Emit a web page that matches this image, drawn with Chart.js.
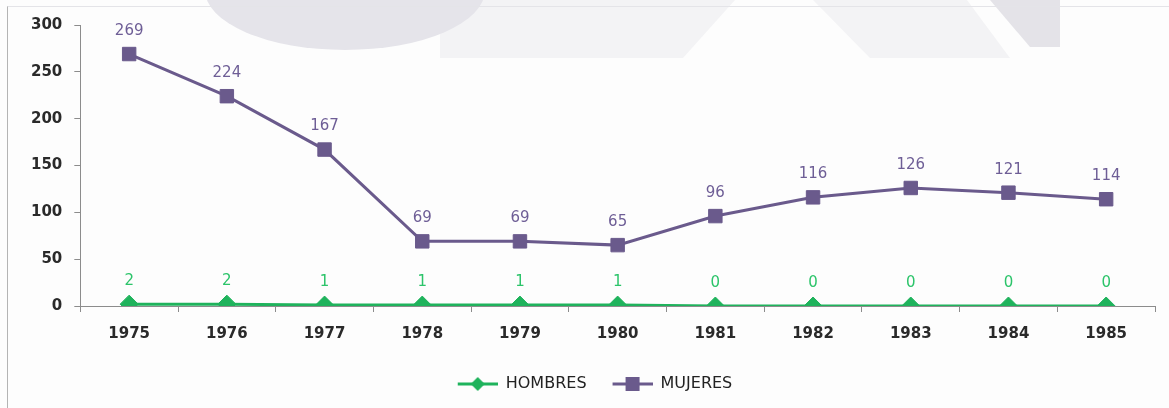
<!DOCTYPE html>
<html>
<head>
<meta charset="utf-8">
<script src="https://cdn.jsdelivr.net/npm/chart.js@4"></script>
<style>
    html, body { margin: 0; padding: 0; background: #fdfdfd; }
    #wrap { position: relative; width: 1169px; height: 408px; overflow: hidden; }
    .mark { position: absolute; }
    #frame { position: absolute; left: 7px; top: 6px; right: 0; bottom: 0; border-left: 1px solid #b4b4b4; border-top: 1px solid #e4e4e8; }
    canvas { position: absolute; left: 0; top: 0; }
</style>
</head>
<body>
<div id="wrap">
    <!-- faint watermark shapes behind the chart -->
    <div class="mark" style="left:440px;top:0;width:300px;height:58px;background:#f3f3f5;clip-path:polygon(0 0,295px 0,243px 58px,0 58px);"></div>
    <div class="mark" style="left:205px;top:-70px;width:280px;height:120px;border-radius:50%;background:#e5e4ea;"></div>
    <div class="mark" style="left:813px;top:0;width:200px;height:58px;background:#f3f3f5;clip-path:polygon(0 0,154px 0,197px 58px,57px 58px);"></div>
    <div class="mark" style="left:990px;top:0;width:70px;height:47px;background:#e4e3e8;clip-path:polygon(0 0,70px 0,70px 47px,40px 47px);"></div>
    <div id="frame"></div>
    <canvas id="chart" width="1169" height="408"></canvas>
</div>
<script>
// --- DATA ---
const years = ['1975', '1976', '1977', '1978', '1979', '1980', '1981', '1982', '1983', '1984', '1985'];
const hombres = [2, 2, 1, 1, 1, 1, 0, 0, 0, 0, 0];
const mujeres = [269, 224, 167, 69, 69, 65, 96, 116, 126, 121, 114];

const GREEN = '#1fb35c';
const PURPLE = '#6a5a8c';

Chart.defaults.font.family = 'DejaVu Sans';
Chart.defaults.color = '#222';

// small line + marker pictures for the legend
function legendSwatch(color, shape) {
    const c = document.createElement('canvas');
    c.width = 56; c.height = 16;
    const g = c.getContext('2d');
    g.strokeStyle = color;
    g.fillStyle = color;
    g.lineWidth = 3;
    g.beginPath();
    g.moveTo(16, 8); g.lineTo(56, 8);
    g.stroke();
    g.beginPath();
    if (shape === 'diamond') {
        g.moveTo(36, 1); g.lineTo(43, 8); g.lineTo(36, 15); g.lineTo(29, 8);
    } else {
        g.rect(29, 1, 14, 14);
    }
    g.closePath();
    g.fill();
    return c;
}

// value labels above each point
const valueLabels = {
    id: 'valueLabels',
    afterDatasetsDraw(chart) {
        const ctx = chart.ctx;
        ctx.save();
        ctx.font = '15px "DejaVu Sans"';
        ctx.textAlign = 'center';
        ctx.textBaseline = 'middle';
        chart.data.datasets.forEach((ds, i) => {
            const meta = chart.getDatasetMeta(i);
            ctx.fillStyle = ds.labelColor;
            meta.data.forEach((pt, j) => {
                ctx.fillText(String(ds.data[j]), pt.x, pt.y - 23);
            });
        });
        ctx.restore();
    }
};

const tickFont = { size: 15, weight: 'bold' };

const ctx = document.getElementById('chart').getContext('2d');
new Chart(ctx, {
    type: 'line',
    data: {
        labels: years,
        datasets: [{
            label: 'HOMBRES',
            data: hombres,
            borderColor: GREEN,
            backgroundColor: GREEN,
            labelColor: '#2cc46a',
            borderWidth: 3,
            pointStyle: 'rectRot',
            pointRadius: 9,
            pointBorderWidth: 1,
            tension: 0,
            swatch: legendSwatch(GREEN, 'diamond')
        }, {
            label: 'MUJERES',
            data: mujeres,
            borderColor: PURPLE,
            backgroundColor: PURPLE,
            labelColor: '#6e5e96',
            borderWidth: 3,
            pointStyle: 'rect',
            pointRadius: 9.5,
            pointBorderWidth: 1,
            tension: 0,
            swatch: legendSwatch(PURPLE, 'square')
        }]
    },
    options: {
        responsive: false,
        animation: false,
        layout: { padding: { top: 25, left: 19, right: 14, bottom: 6 } },
        plugins: {
            tooltip: { enabled: false },
            legend: {
                position: 'bottom',
                labels: {
                    usePointStyle: true,
                    pointStyleWidth: 56,
                    font: { size: 16 },
                    color: '#222',
                    padding: 10,
                    generateLabels(chart) {
                        const items = Chart.defaults.plugins.legend.labels.generateLabels(chart);
                        items.forEach(it => { it.pointStyle = chart.data.datasets[it.datasetIndex].swatch; });
                        return items;
                    }
                }
            }
        },
        scales: {
            x: {
                offset: true,
                grid: { drawOnChartArea: false, tickLength: 6, color: '#8c8c8c', offset: true },
                border: { color: '#8c8c8c' },
                ticks: { font: tickFont, color: '#2a2a2a', padding: 13, maxRotation: 0 },
                afterFit(scale) { scale.height = 60; }
            },
            y: {
                min: 0,
                max: 300,
                ticks: { stepSize: 50, font: tickFont, color: '#2a2a2a', padding: 12 },
                grid: { drawOnChartArea: false, tickLength: 6, color: '#8c8c8c' },
                border: { color: '#8c8c8c' }
            }
        }
    },
    plugins: [valueLabels]
});
</script>
</body>
</html>
